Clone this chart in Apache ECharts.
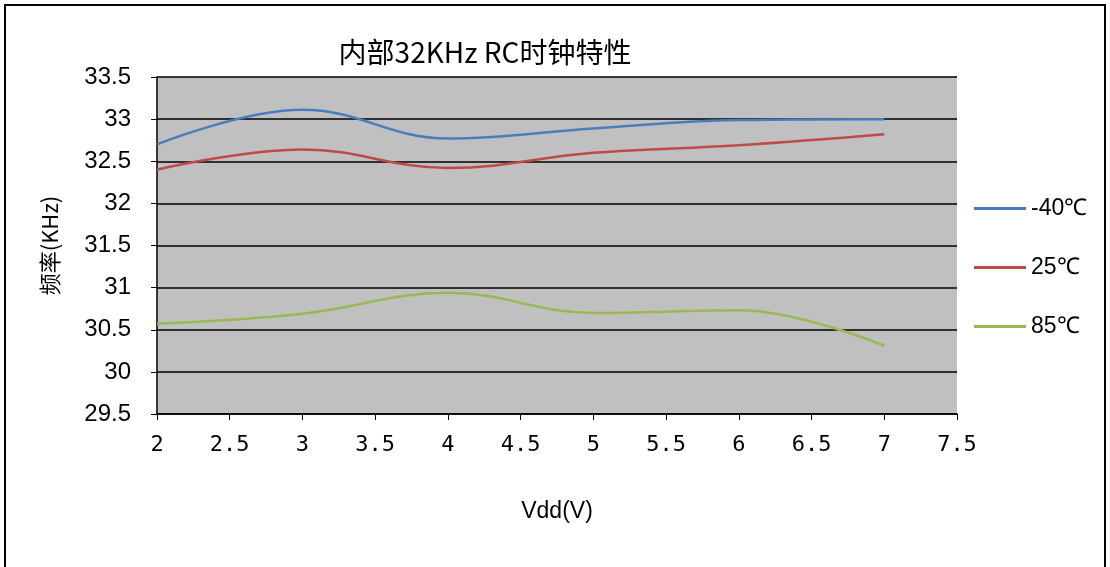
<!DOCTYPE html>
<html>
<head>
<meta charset="utf-8">
<script src="https://cdn.jsdelivr.net/npm/echarts@6/dist/echarts.min.js"></script>
<style>
  html, body { margin: 0; padding: 0; background: #fff; }
  #chart { width: 1110px; height: 567px; }
</style>
</head>
<body>
<div id="chart"></div>
<script>
// Supply voltage points (V)
const vdd = [2, 3, 4, 5, 6, 7];
// Measured internal RC clock frequency (KHz) at each temperature
const freqMinus40 = [32.70, 33.11, 32.77, 32.89, 32.99, 33.00];
const freq25 = [32.40, 32.64, 32.42, 32.60, 32.69, 32.82];
const freq85 = [30.57, 30.69, 30.94, 30.70, 30.73, 30.31];
const seriesNames = ['-40℃', '25℃', '85℃'];
const seriesColors = ['#4a7ebb', '#be4b48', '#98b954'];

const chart = echarts.init(document.getElementById('chart'));

function pairs(ys) {
  return vdd.map((x, i) => [x, ys[i]]);
}

const allSeries = [freqMinus40, freq25, freq85].map((ys, i) => ({
  name: seriesNames[i],
  type: 'line',
  data: pairs(ys),
  smooth: 0.4,
  symbol: 'none',
  lineStyle: { color: seriesColors[i], width: 2.5 },
  itemStyle: { color: seriesColors[i] }
}));

chart.setOption({
  animation: false,
  backgroundColor: '#ffffff',
  graphic: [{
    type: 'rect',
    shape: { x: 5, y: 5, width: 1100, height: 600 },
    style: { fill: 'none', stroke: '#000', lineWidth: 2 },
    silent: true
  }],
  title: {
    text: '内部32KHz RC时钟特性',
    left: 480,
    top: 33,
    textAlign: 'center',
    textStyle: {
      fontFamily: 'Noto Sans CJK SC',
      fontWeight: 'normal',
      fontSize: 28,
      color: '#000'
    }
  },
  legend: {
    orient: 'vertical',
    left: 969,
    top: 192,
    itemGap: 36,
    itemWidth: 52,
    itemHeight: 3,
    icon: 'rect',
    data: seriesNames,
    textStyle: { fontFamily: 'Liberation Sans', fontSize: 23, color: '#000' }
  },
  grid: {
    left: 157,
    right: 153,
    top: 77,
    bottom: 153,
    show: true,
    backgroundColor: '#c0c0c0',
    borderWidth: 0
  },
  xAxis: {
    type: 'value',
    min: 2,
    max: 7.5,
    interval: 0.5,
    name: 'Vdd(V)',
    nameLocation: 'middle',
    nameGap: 86,
    nameTextStyle: { fontFamily: 'Liberation Sans', fontSize: 23, color: '#000' },
    axisLine: { show: true, onZero: false, lineStyle: { color: '#000', width: 1.5 } },
    axisTick: { show: true, length: 6, lineStyle: { color: '#000' } },
    axisLabel: {
      margin: 20,
      fontFamily: 'DejaVu Sans Mono',
      fontSize: 22,
      color: '#000',
      formatter: v => String(v)
    },
    splitLine: { show: false }
  },
  yAxis: {
    type: 'value',
    min: 29.5,
    max: 33.5,
    interval: 0.5,
    name: '频率(KHz)',
    nameLocation: 'middle',
    nameGap: 96,
    nameRotate: 90,
    nameTextStyle: { fontFamily: 'Noto Sans CJK SC', fontSize: 22, color: '#000' },
    axisLine: { show: true, lineStyle: { color: '#000', width: 1.5 } },
    axisTick: { show: true, length: 6, lineStyle: { color: '#000' } },
    axisLabel: {
      margin: 26,
      fontFamily: 'Liberation Sans',
      fontSize: 24,
      color: '#000',
      formatter: v => String(v)
    },
    splitLine: { show: true, lineStyle: { color: '#000', width: 1.5 } }
  },
  series: allSeries
});
</script>
</body>
</html>
